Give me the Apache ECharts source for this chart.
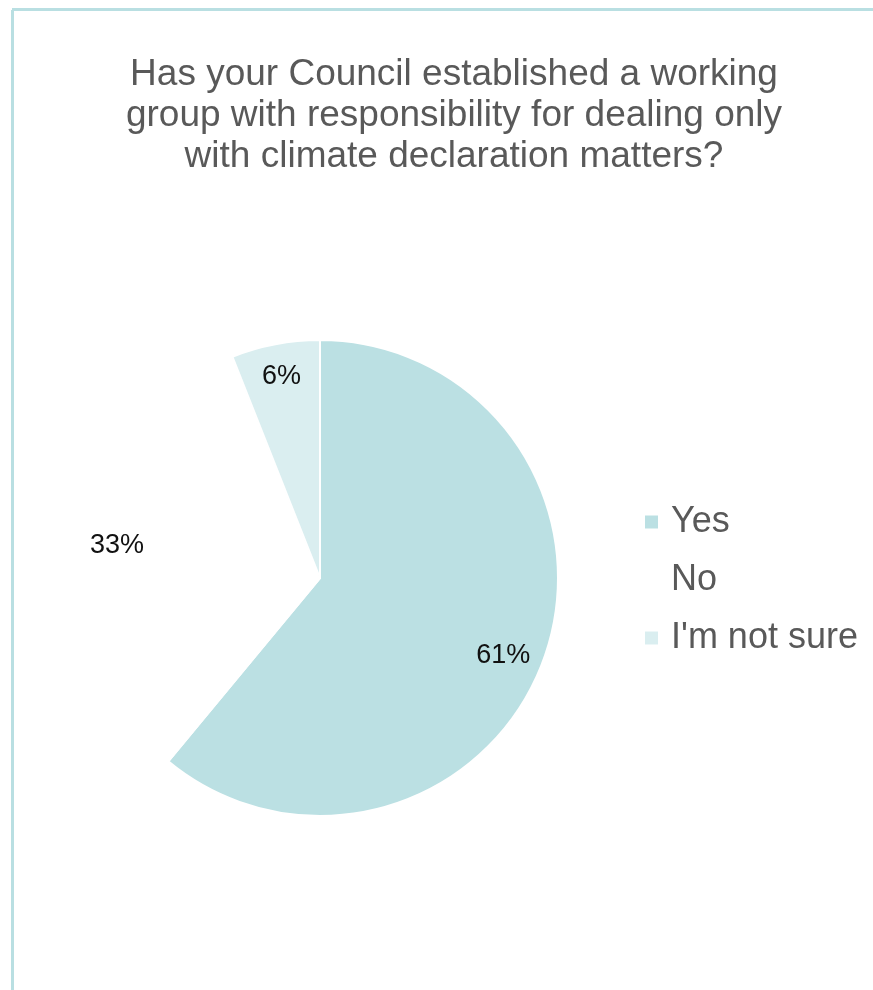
<!DOCTYPE html>
<html>
<head>
<meta charset="utf-8">
<script src="https://cdn.jsdelivr.net/npm/echarts@6/dist/echarts.min.js"></script>
<style>
html,body{margin:0;padding:0;background:#fff;}
#chart{width:873px;height:990px;}
</style>
</head>
<body>
<div id="chart"></div>
<script>
var titleText = 'Has your Council established a working\ngroup with responsibility for dealing only\nwith climate declaration matters?';
var categories = ['Yes', 'No', "I'm not sure"];
var values = [61, 33, 6];
var colors = ['#bbe0e3', '#ffffff', '#daeef0'];

var chart = echarts.init(document.getElementById('chart'));
var FONT = '"Liberation Sans", Arial, sans-serif';

var mainData = categories.map(function (c, i) {
  return { name: c, value: values[i], itemStyle: { color: colors[i] } };
});
var labelData = categories.map(function (c, i) {
  var d = { name: c, value: values[i] };
  if (i === 0) { d.label = { offset: [-10, 8] }; }
  return d;
});

chart.setOption({
  backgroundColor: '#ffffff',
  animation: false,
  title: {
    text: titleText,
    left: 454,
    top: 54,
    padding: 0,
    textAlign: 'center',
    textStyle: {
      fontFamily: FONT,
      fontSize: 37,
      fontWeight: 'normal',
      color: '#595959',
      lineHeight: 41,
      align: 'center'
    }
  },
  legend: {
    orient: 'vertical',
    left: 643,
    top: 504,
    padding: 0,
    itemWidth: 15,
    itemHeight: 15,
    itemGap: 22,
    icon: 'rect',
    data: categories,
    textStyle: {
      fontFamily: FONT,
      fontSize: 36,
      color: '#595959',
      lineHeight: 36,
      padding: [0, 0, 0, 7]
    }
  },
  graphic: [
    { type: 'rect', shape: { x: 12, y: 8, width: 861, height: 3 }, style: { fill: '#b9dfe2' }, silent: true },
    { type: 'rect', shape: { x: 11, y: 10, width: 3, height: 980 }, style: { fill: '#b9dfe2' }, silent: true }
  ],
  series: [
    {
      type: 'pie',
      center: [320, 578],
      radius: [0, 238],
      startAngle: 90,
      clockwise: true,
      silent: true,
      label: { show: false },
      labelLine: { show: false },
      itemStyle: { borderColor: '#ffffff', borderWidth: 2 },
      data: mainData
    },
    {
      type: 'pie',
      center: [320, 578],
      radius: [167, 238],
      startAngle: 90,
      clockwise: true,
      silent: true,
      itemStyle: { color: 'rgba(0,0,0,0)' },
      label: {
        show: true,
        position: 'inside',
        formatter: '{c}%',
        fontFamily: FONT,
        fontSize: 27,
        color: '#111111'
      },
      labelLine: { show: false },
      data: labelData
    }
  ]
});
</script>
</body>
</html>
